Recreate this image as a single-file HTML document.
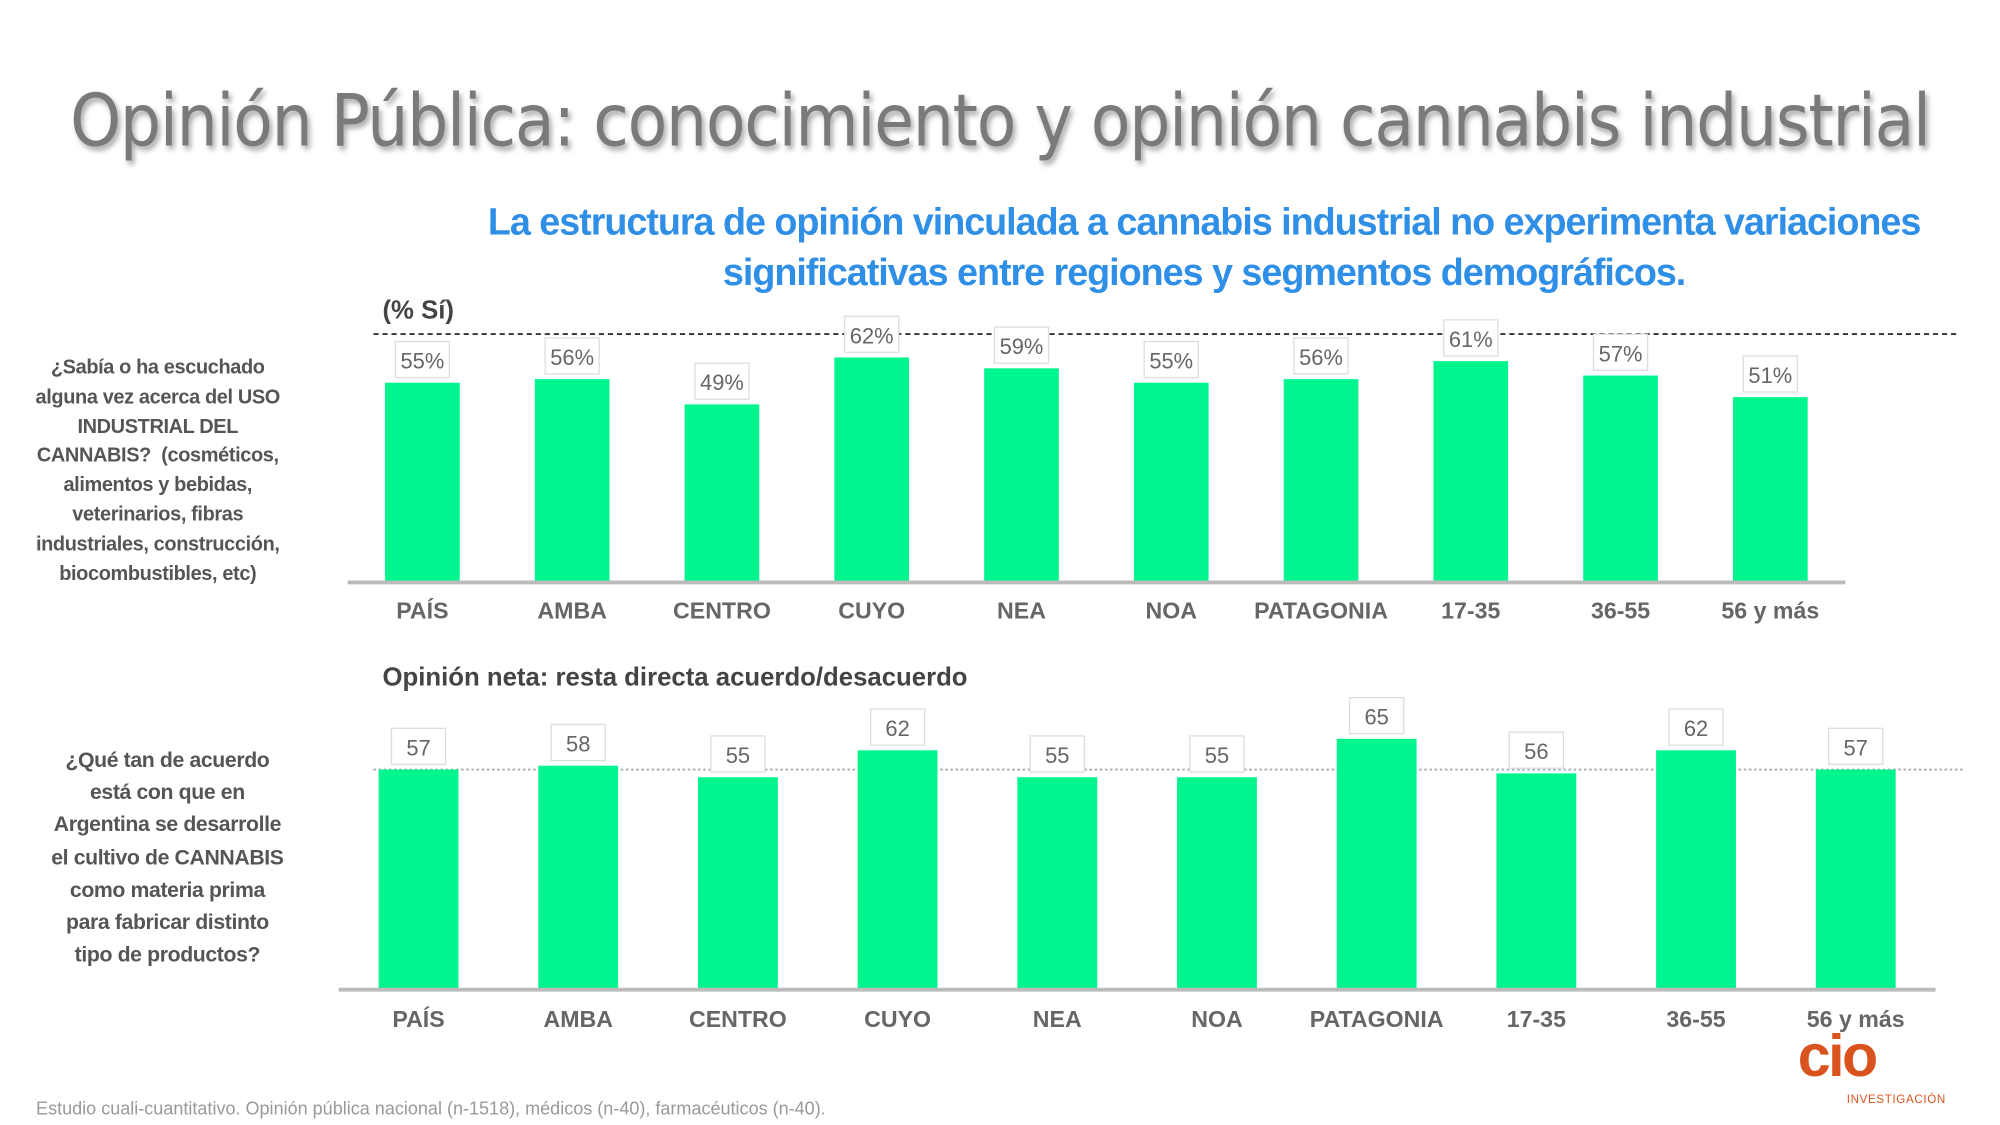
<!DOCTYPE html>
<html><head><meta charset="utf-8"><style>
html,body{margin:0;padding:0;background:#fff;overflow:hidden}
#wrap{width:1553px;height:873px;position:relative;transform:scale(1.2878,1.2887);transform-origin:0 0;font-family:"Liberation Sans",sans-serif}
.abs{position:absolute}
#title{left:0;width:1553px;top:62px;text-align:center;font-size:56px;color:#7a7a7a;text-shadow:2px 3px 4px rgba(0,0,0,.35);letter-spacing:-1px;font-family:"DejaVu Sans Condensed","Liberation Sans",sans-serif;white-space:nowrap}
#sub{left:330px;width:1210px;top:153px;text-align:center;font-size:29.3px;line-height:39px;color:#2f8fe6;font-weight:bold;letter-spacing:-0.8px;font-family:"Liberation Sans",sans-serif}
.q{color:#555;font-weight:bold;font-size:15.5px;text-align:center;font-family:"Liberation Sans",sans-serif;white-space:nowrap;letter-spacing:-0.3px}
#foot{left:28px;top:852px;font-size:14px;color:#999}
</style></head><body>
<div id="wrap">
<div id="title" class="abs">Opinión Pública: conocimiento y opinión cannabis industrial</div>
<div id="sub" class="abs">La estructura de opinión vinculada a cannabis industrial no experimenta variaciones significativas entre regiones y segmentos demográficos.</div>
<div class="abs q" style="left:20px;top:275px;width:205px;line-height:22.8px">¿Sabía o ha escuchado<br>alguna vez acerca del USO<br>INDUSTRIAL DEL<br>CANNABIS? &nbsp;(cosméticos,<br>alimentos y bebidas,<br>veterinarios, fibras<br>industriales, construcción,<br>biocombustibles, etc)</div>
<div class="abs q" style="left:30px;top:578px;width:200px;font-size:16.5px;line-height:25.2px">¿Qué tan de acuerdo<br>está con que en<br>Argentina se desarrolle<br>el cultivo de CANNABIS<br>como materia prima<br>para fabricar distinto<br>tipo de productos?</div>
<svg id="chart" class="abs" style="left:0;top:0" width="1553" height="873"></svg>
<div id="foot" class="abs">Estudio cuali-cuantitativo. Opinión pública nacional (n-1518), médicos (n-40), farmacéuticos (n-40).</div>
<div class="abs" style="left:1396px;top:792px;font-size:46px;font-weight:bold;color:#d9531e;letter-spacing:-2px">cio</div>
<div class="abs" style="left:1434px;top:848px;font-size:9px;color:#d9531e;letter-spacing:.5px">INVESTIGACIÓN</div>
</div>
<script>
const categories=["PAÍS","AMBA","CENTRO","CUYO","NEA","NOA","PATAGONIA","17-35","36-55","56 y más"];
const awareValues=[55,56,49,62,59,55,56,61,57,51];
const netValues=[57,58,55,62,55,55,65,56,62,57];
const NS="http://www.w3.org/2000/svg";
const svg=document.getElementById('chart');
function mk(t,a){const e=document.createElementNS(NS,t);for(const k in a)e.setAttribute(k,a[k]);svg.appendChild(e);return e;}
function chart(cfg,vals,suffix,nm){
  const x0=cfg.x0,step=cfg.step,y=v=>cfg.base-v*cfg.k;
  let l=mk('line',{x1:cfg.refX1,x2:cfg.refX2,y1:y(cfg.ref),y2:y(cfg.ref),stroke:cfg.refColor,'stroke-width':1.5,'stroke-dasharray':cfg.dash});
  
  
  vals.forEach((v,i)=>{
    const cx=x0+i*step;
    const r=mk('rect',{x:cx-cfg.w/2,y:y(v),width:cfg.w,height:cfg.base-y(v),fill:'#00f58f'});
    
    
    const b=mk('rect',{x:cx-21,y:y(v)-32,width:42,height:28,fill:'#fff',stroke:'#ddd','stroke-width':1});
    
    
    const t=mk('text',{x:cx,y:y(v)-11,'text-anchor':'middle','font-size':17,fill:'#666','font-family':'Liberation Sans Narrow, Liberation Sans, sans-serif'});
    t.textContent=v+suffix;
    
    
    const c=mk('text',{x:cx,y:cfg.catY,'text-anchor':'middle','font-size':18,'font-weight':'bold',fill:'#666','font-family':'Liberation Sans Narrow, Liberation Sans, sans-serif'});
    c.textContent=categories[i];
    
    
  });
  const a=mk('line',{x1:cfg.ax1,x2:cfg.ax2,y1:cfg.base+1,y2:cfg.base+1,stroke:'#bbb','stroke-width':3});
  
  
}
chart({x0:328,step:116.3,w:58,base:451,k:2.8,ref:68.5,refX1:290,refX2:1520,refColor:'#333',dash:'4 3',catY:480,ax1:270,ax2:1433},awareValues,'%','awareness');
chart({x0:325,step:124,w:62,base:767,k:2.98,ref:57,refX1:290,refX2:1525,refColor:'#aaa',dash:'2 2',catY:797,ax1:263,ax2:1503},netValues,'','net-opinion');
let t1=mk('text',{x:297,y:247,'font-size':20,'font-weight':'bold',fill:'#444','font-family':'Liberation Sans Narrow, Liberation Sans, sans-serif'});t1.textContent='(% Sí)';


let t2=mk('text',{x:297,y:532,'font-size':20,'font-weight':'bold',fill:'#444','font-family':'Liberation Sans Narrow, Liberation Sans, sans-serif'});t2.textContent='Opinión neta: resta directa acuerdo/desacuerdo';


</script>
</body></html>
